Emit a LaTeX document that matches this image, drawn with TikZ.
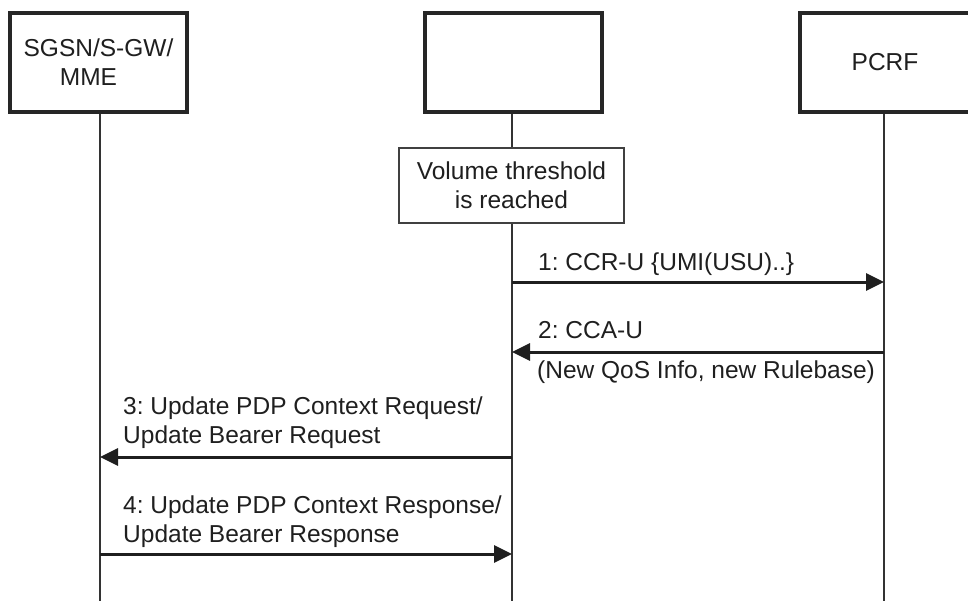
\documentclass[tikz,border=0pt]{standalone}
\usepackage{fontspec}
\setmainfont{Liberation Sans}
\frenchspacing
\usetikzlibrary{arrows.meta}
\begin{document}
\begin{tikzpicture}[x=1pt,y=-1pt,
  every node/.style={font=\fontsize{24.5}{29}\selectfont, text=black!88},
  party/.style={draw=black!85, line width=4pt, fill=white, inner sep=0pt,
    minimum width=#1, minimum height=99pt, align=center},
  party/.default=177pt,
  life/.style={draw=black!80, line width=2pt},
  notebox/.style={draw=black!75, line width=1.4pt, fill=white, inner sep=0pt,
    minimum width=225pt, minimum height=75pt, align=center},
  msg/.style={draw=black!88, line width=3pt, -{Triangle[length=18pt,width=17pt]}},
  lbl/.style={anchor=base west, inner sep=0pt, align=left}
]
\useasboundingbox (0,0) rectangle (968,600);

% participants
\node[party] (sgsn) at (98.5,62.5) {SGSN/S-GW/\\MME\kern20pt};
\node[party] (mid)  at (513.5,62.5) {};
\node[party=170pt] (pcrf) at (885,62.5) {PCRF};

% lifeline ends
\coordinate (bot) at (0,602);
\coordinate (sgsnlife) at (100,0);
\coordinate (midlife) at (512,0);
\coordinate (pcrflife) at (884,0);

\draw[life] (sgsnlife |- sgsn.south) -- (sgsnlife |- bot);
\draw[life] (midlife |- mid.south) -- (midlife |- bot);
\draw[life] (pcrflife |- pcrf.south) -- (pcrflife |- bot);

% local event
\node[notebox] (vol) at (511.5,185.5) {Volume threshold\\is reached};

% message rows
\coordinate (r1) at (0,282);
\coordinate (r2) at (0,352);
\coordinate (r3) at (0,457);
\coordinate (r4) at (0,554);

\draw[msg] (midlife |- r1) -- (pcrflife |- r1);
\node[lbl] (l1) at (538,270) {1: CCR-U \{UMI(USU)..\}};

\draw[msg] (pcrflife |- r2) -- (midlife |- r2);
\node[lbl] (l2) at (538,338) {2: CCA-U};
\node[lbl] (l2b) at (537,378) {(New QoS Info, new Rulebase)};

% two-line labels: the base anchor sits on the last line
\draw[msg] (midlife |- r3) -- (sgsnlife |- r3);
\node[lbl] (l3) at (123,443) {3: Update PDP Context Request/\\Update Bearer Request};

\draw[msg] (sgsnlife |- r4) -- (midlife |- r4);
\node[lbl] (l4) at (123,542) {4: Update PDP Context Response/\\Update Bearer Response};
\end{tikzpicture}
\end{document}
